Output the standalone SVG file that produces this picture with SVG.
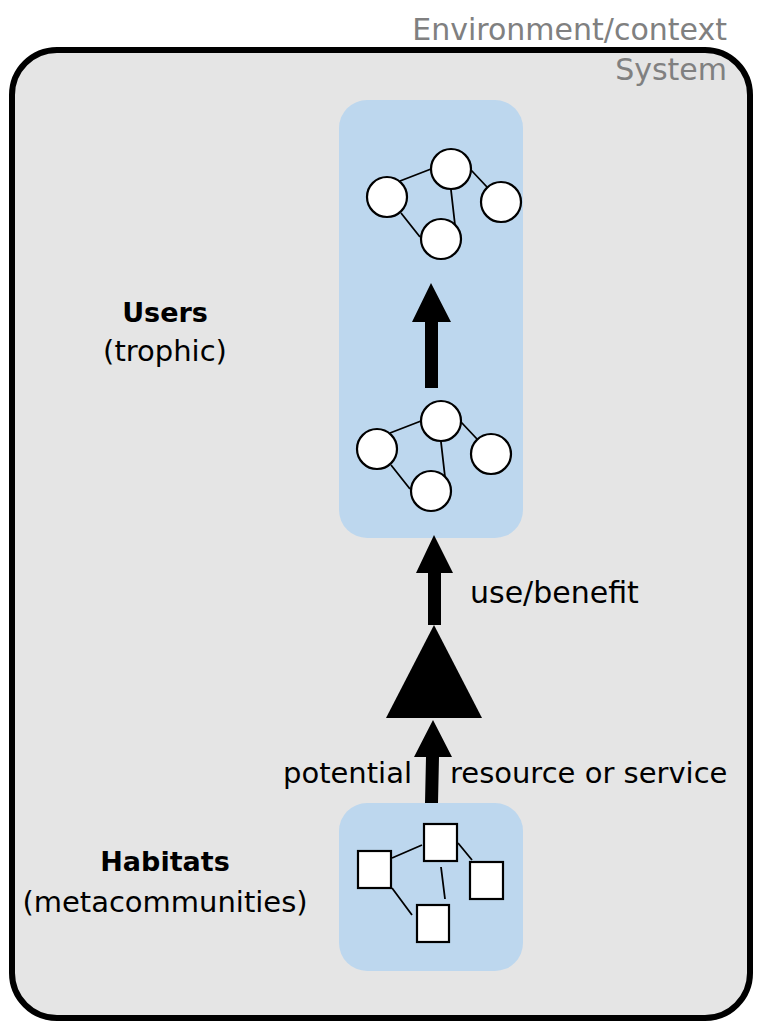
<svg xmlns="http://www.w3.org/2000/svg" width="764" height="1022" viewBox="0 0 764 1022">
<style>
text{font-family:"DejaVu Sans",Verdana,sans-serif;font-size:29px;fill:#000}
.gray{fill:#808080;font-size:30px}
.b{font-weight:bold;font-size:27px}
.panel{fill:#BDD7EE}
.nd{fill:#fff;stroke:#000;stroke-width:2.2}
.ln{stroke:#000;stroke-width:1.8;fill:none}
.arr{fill:#000}
</style>
<rect width="764" height="1022" fill="#fff"/>
<g id="system">
<rect x="12" y="50" width="738" height="968" rx="45" ry="45" fill="#E5E5E5" stroke="#000" stroke-width="6"/>
<text class="gray" x="727" y="40" text-anchor="end">Environment/context</text>
<text class="gray" x="727" y="80" text-anchor="end">System</text>
</g>
<g id="users">
<rect class="panel" x="339" y="100" width="184" height="438" rx="28"/>
<g id="net-top">
<path class="ln" d="M400 181L431 169M401 213L420 237M451 190L455 225M471 170L487 187"/>
<circle class="nd" cx="387" cy="197" r="20"/>
<circle class="nd" cx="451" cy="169" r="20"/>
<circle class="nd" cx="501" cy="202" r="20"/>
<circle class="nd" cx="441" cy="239" r="20"/>
</g>
<g id="net-bottom" transform="translate(-10,252)">
<path class="ln" d="M400 181L431 169M401 213L420 237M451 190L455 225M471 170L487 187"/>
<circle class="nd" cx="387" cy="197" r="20"/>
<circle class="nd" cx="451" cy="169" r="20"/>
<circle class="nd" cx="501" cy="202" r="20"/>
<circle class="nd" cx="441" cy="239" r="20"/>
</g>
<text class="b" x="165" y="322" text-anchor="middle">Users</text>
<text x="165" y="361" text-anchor="middle">(trophic)</text>
</g>
<g id="habitats">
<rect class="panel" x="339" y="803" width="184" height="168" rx="28"/>
<path class="ln" d="M392 858L422 845M392 888L412 915M441 867L445 899M458 843L472 860"/>
<rect class="nd" x="358" y="851" width="33" height="37"/>
<rect class="nd" x="424" y="824" width="33" height="37"/>
<rect class="nd" x="470" y="862" width="33" height="37"/>
<rect class="nd" x="417" y="905" width="32" height="37"/>
<text class="b" x="165" y="871" text-anchor="middle">Habitats</text>
<text x="165" y="912" text-anchor="middle">(metacommunities)</text>
</g>
<g id="connectors">
<polygon class="arr" points="431,283 451,322 438,322 438,388 425,388 425,322 412,322"/>
<polygon class="arr" points="434,535 453,573 441,573 441,625 428,625 428,573 416,573"/>
<polygon class="arr" points="434,625 482,718 386,718"/>
<polygon class="arr" points="433,720 452,757 439,757 438,803 425,803 426,757 414,757"/>
<text x="470" y="603" style="font-size:30px">use/benefit</text>
<text x="283" y="783">potential</text>
<text x="450" y="783">resource or service</text>
</g>
</svg>
